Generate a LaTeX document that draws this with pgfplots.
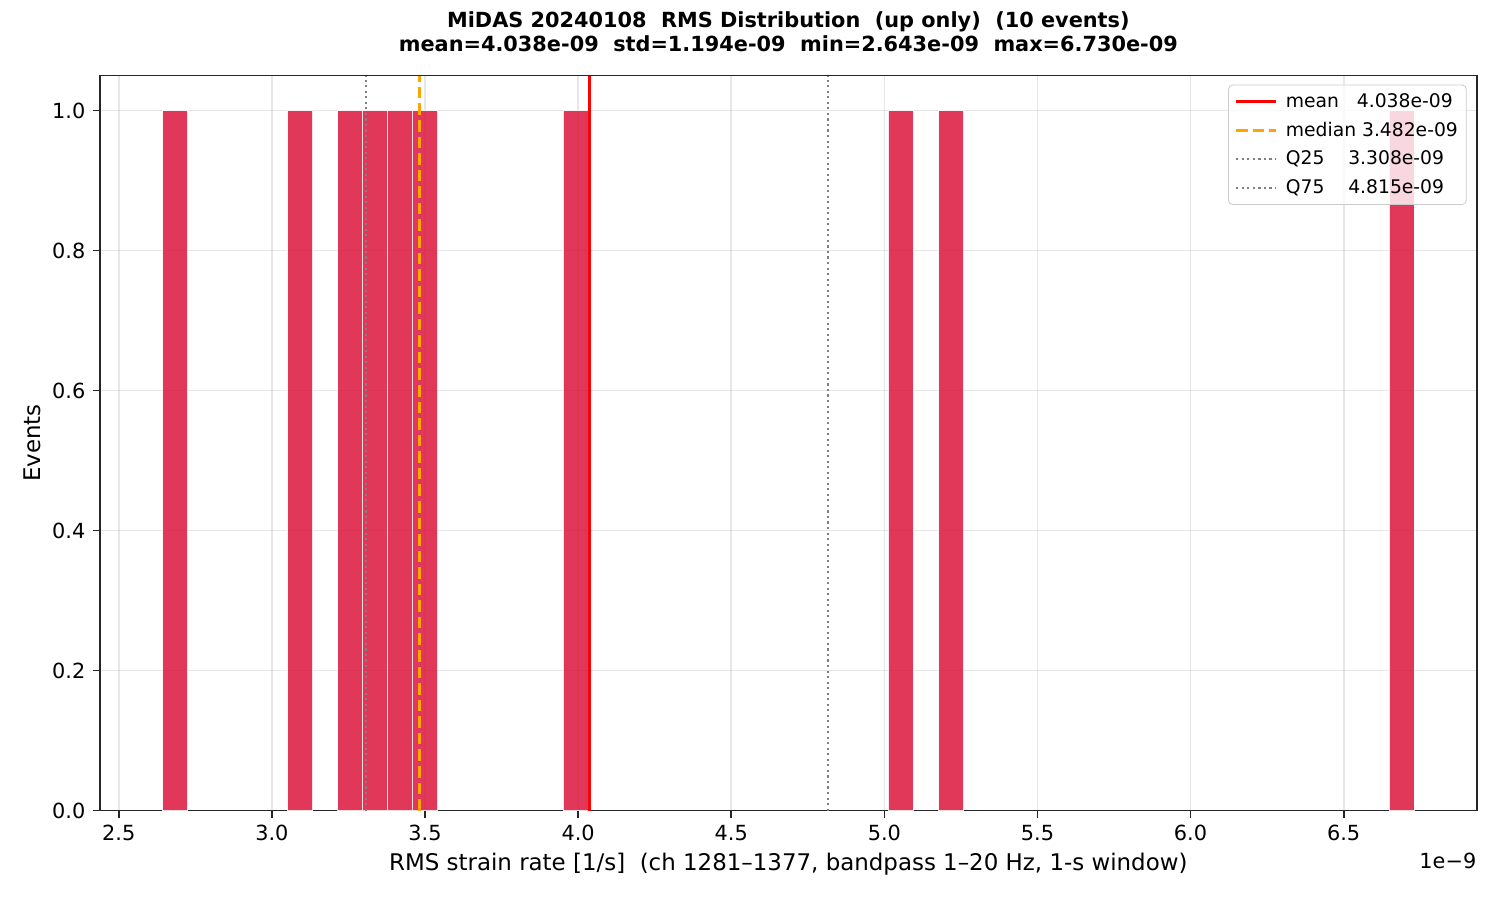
\documentclass[border=0pt]{standalone}
\usepackage{fontspec}
\setmainfont{DejaVu Sans}
\usepackage{pgfplots}
\pgfplotsset{compat=1.18}
\definecolor{barc}{HTML}{DC143C}
\definecolor{gridc}{HTML}{B0B0B0}
\definecolor{legedge}{HTML}{CCCCCC}
\definecolor{medc}{HTML}{FFA500}
\definecolor{spine}{HTML}{262626}
\begin{document}
\begin{tikzpicture}[font=\fontsize{10}{12}\selectfont]
\useasboundingbox (-48pt,-42.9pt) rectangle (672pt,389.1pt);
\begin{axis}[
  scale only axis, width=660.8pt, height=352.8pt,
  clip mode=individual,
  xmin=2.43865, xmax=6.93435, ymin=0, ymax=1.05,
  xtick={2.5,3.0,3.5,4.0,4.5,5.0,5.5,6.0,6.5},
  ytick={0,0.2,0.4,0.6,0.8,1.0},
  xticklabel style={/pgf/number format/.cd, fixed, fixed zerofill, precision=1, assume math mode=true},
  yticklabel style={/pgf/number format/.cd, fixed, fixed zerofill, precision=1, assume math mode=true},
  scaled ticks=false,
  tick align=outside, tick pos=left,
  major tick length=3.5pt,
  every tick/.style={spine, line width=0.8pt},
  axis line style={spine, line width=0.8pt},
  grid=major,
  major grid style={gridc, opacity=0.3, line width=0.8pt},
  title={MiDAS 20240108\ \ RMS Distribution\ \ (up only)\ \ (10 events)\\mean=4.038e-09\ \ std=1.194e-09\ \ min=2.643e-09\ \ max=6.730e-09},
  title style={align=center, font=\fontsize{10}{11.5}\selectfont\bfseries, at={(0.5,1)}, anchor=south, yshift=2pt},
  xlabel={RMS strain rate [1/s]\ \ (ch 1281–1377, bandpass 1–20 Hz, 1-s window)},
  ylabel={Events},
  label style={font=\fontsize{11}{13}\selectfont},
  xlabel style={yshift=1pt},
  ylabel style={yshift=-1.5pt},
  legend cell align=left,
  legend style={at={(1,1)}, anchor=north east, xshift=-4.8pt, yshift=-4.3pt,
    draw=legedge, fill=white, fill opacity=0.8, text opacity=1, draw opacity=1,
    rounded corners=2pt, font=\fontsize{9}{11}\selectfont, row sep=1.5pt,
    nodes={inner xsep=1pt}},
  legend image code/.code={\draw[#1] (0pt,0pt) -- (19pt,0pt); \path (22pt,0pt);},
]
\addplot[ybar, bar width=0.08174, bar shift=0pt, fill=barc, draw=white, line width=0.5pt, opacity=0.85, forget plot]
  coordinates {(2.68387,1) (3.09257,1) (3.25605,1) (3.33779,1) (3.41953,1) (3.50127,1) (3.99171,1) (5.05433,1) (5.21781,1) (6.68913,1)};
\addplot[red, line width=1.5pt] coordinates {(4.038,0) (4.038,1.05)};
\addlegendentry{mean\ \ \ 4.038e-09}
\addplot[medc, line width=1.5pt, dash pattern=on 5.55pt off 2.4pt] coordinates {(3.482,0) (3.482,1.05)};
\addlegendentry{median 3.482e-09}
\addplot[gray, line width=1pt, dash pattern=on 1pt off 1.65pt] coordinates {(3.308,0) (3.308,1.05)};
\addlegendentry{Q25\ \ \ \ 3.308e-09}
\addplot[gray, line width=1pt, dash pattern=on 1pt off 1.65pt] coordinates {(4.815,0) (4.815,1.05)};
\addlegendentry{Q75\ \ \ \ 4.815e-09}
\node[anchor=north east, inner sep=0pt, font=\fontsize{10}{12}\selectfont] at (rel axis cs:1,0) [yshift=-20pt] {1e−9};
\end{axis}
\end{tikzpicture}
\end{document}
